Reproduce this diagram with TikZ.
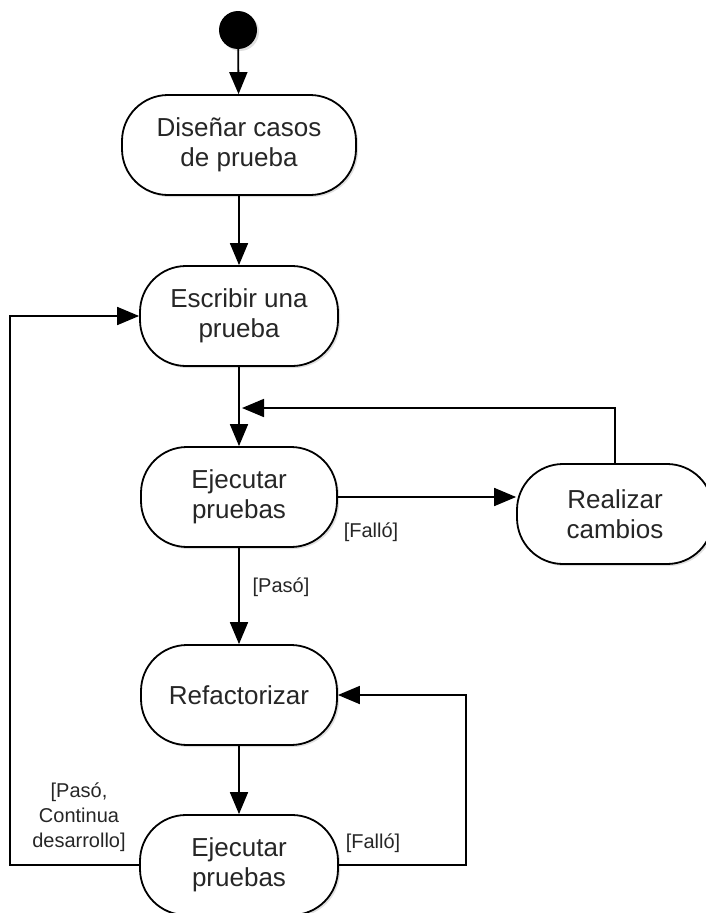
\documentclass[tikz,border=0pt]{standalone}
\usepackage{fontspec}
\setmainfont{Liberation Sans}
\usetikzlibrary{arrows.meta,shadows}
\begin{document}
\begin{tikzpicture}[x=1pt,y=1pt,
  act/.style={draw, line width=1.8pt, fill=white, rounded corners=46pt,
    minimum height=100pt, inner sep=0pt, align=center,
    font=\fontsize{26}{30}\selectfont, text=black!85,
    drop shadow={opacity=0.25, shadow xshift=2pt, shadow yshift=-2pt}},
  guard/.style={font=\fontsize{20}{25}\selectfont, align=center, text=black!85},
  flow/.style={line width=1.8pt, -{Triangle[length=22pt,width=18pt]}},
]
\useasboundingbox (0,0) rectangle (705,-913);

% initial state
\node[circle, fill=black, minimum size=38pt, inner sep=0pt,
  drop shadow={opacity=0.25, shadow xshift=2pt, shadow yshift=-2pt}] (start) at (238,-30) {};

% activities
\node[act, minimum width=234pt] (disenar) at (239,-145) {Diseñar casos\\de prueba};
\node[act, minimum width=198pt] (escribir) at (239,-316) {Escribir una\\prueba};
\node[act, minimum width=196pt] (ejecutar) at (239,-497) {Ejecutar\\pruebas};
\node[act, minimum width=196pt] (realizar) at (615,-514) {Realizar\\cambios};
\node[act, minimum width=196pt] (refactor) at (239,-695) {Refactorizar};
\node[act, minimum width=198pt] (ejecutar2) at (239,-865) {Ejecutar\\pruebas};

% join point on the flow into the test run
\coordinate (join) at (242,-408);

% control flow
\draw[flow] (start) -- (disenar);
\draw[flow] (disenar) -- (escribir);
\draw[flow] (escribir) -- (ejecutar);
\draw[flow] (ejecutar.east) -- (ejecutar.east -| realizar.west);
\draw[flow] (realizar.north) |- (join);
\draw[flow] (ejecutar) -- (refactor);
\draw[flow] (refactor) -- (ejecutar2);
\draw[flow] (ejecutar2.east) -- ++(127,0) |- (refactor.east);
\draw[flow] (ejecutar2.west) -- ++(-129,0) |- (escribir.west);

% guards
\node[guard] (g1) at (371,-532) {[Falló]};
\node[guard] (g2) at (281,-587) {[Pasó]};
\node[guard] (g3) at (79,-817) {[Pasó,\\Continua\\desarrollo]};
\node[guard] (g4) at (373,-843) {[Falló]};
\end{tikzpicture}
\end{document}
